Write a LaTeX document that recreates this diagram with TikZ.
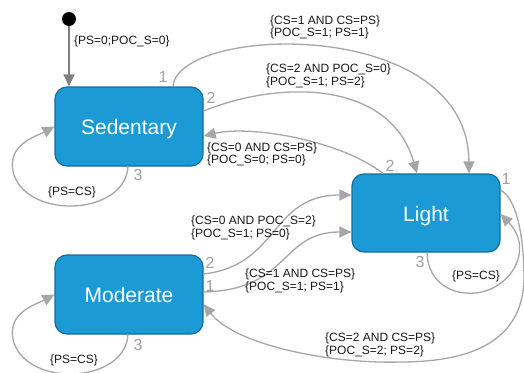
\documentclass[tikz,border=0pt]{standalone}
\usepackage{fontspec}
\setmainfont{Liberation Sans}
\usetikzlibrary{arrows.meta,calc}
\definecolor{boxfill}{HTML}{1B9AD6}
\definecolor{boxline}{HTML}{106E9E}
\definecolor{edgegray}{HTML}{A6A6A6}
\definecolor{numgray}{HTML}{A0A0A0}
\definecolor{initgray}{HTML}{808080}
\begin{document}
\begin{tikzpicture}[x=1pt,y=-1pt,
 state/.style={draw=boxline,line width=1.2pt,fill=boxfill,rounded corners=12pt,minimum width=148pt,minimum height=79pt,inner sep=0pt,text=white,font=\fontsize{21}{24}\selectfont,text height=18pt,text depth=2pt},
 edge/.style={draw=edgegray,line width=1.3pt,-{Triangle[length=12pt,width=11pt]}},
 initedge/.style={draw=initgray,line width=1.3pt,-{Triangle[length=12pt,width=11pt]}},
 lbl/.style={font=\fontsize{12}{12.5}\selectfont,align=left,anchor=west,inner sep=0pt,text=black!90},
 looplbl/.style={font=\fontsize{12}{12.5}\selectfont,inner sep=0pt,text=black!90},
 num/.style={font=\fontsize{16}{16}\selectfont,text=numgray,inner sep=0pt}]
\useasboundingbox (0,0) rectangle (524,372);
\fill[white] (0,0) rectangle (524,372);

\node[circle,fill=black,minimum size=14pt,inner sep=0pt] (init) at (69,19) {};
\node[state] (sed) at (129,126.5) {Sedentary};
\node[state] (mod) at (129,294.5) {Moderate};
\node[state,minimum height=78pt] (light) at (426,213) {Light};

% initial
\draw[initedge] (init) -- (init |- sed.north);
% Sedentary -> Light (1)
\draw[edge] ($(sed.north)+(44,0)$) .. controls (178,25) and (468,15) .. ($(light.north)+(43,0)$);
% Sedentary -> Light (2)
\draw[edge] ($(sed.east)+(0,-15.5)$) .. controls (280,80) and (390,80) .. ($(light.north)+(-9,0)$);
% Light -> Sedentary (2)
\draw[edge] ($(light.north)+(-43,0)$) .. controls (340,140) and (250,125) .. ($(sed.east)+(0,9.5)$);
% Sedentary self loop
\draw[edge] ($(sed.south)+(-1,0)$) .. controls (125,215) and (30,220) .. (14,175) .. controls (5,145) and (35,137) .. (sed.west);
% Moderate self loop
\draw[edge] ($(mod.south)+(-1,0)$) .. controls (125,383) and (30,388) .. (14,343) .. controls (5,313) and (35,305) .. (mod.west);
% Light self loop
\draw[edge] ($(light.south)+(1,0)$) .. controls (428,285) and (455,295) .. (475,293) .. controls (510,290) and (535,250) .. ($(light.east)+(0,1)$);
% Light -> Moderate (1)
\draw[edge] ($(light.east)+(0,-23)$) .. controls (518,200) and (524,240) .. (524,280) .. controls (522,342) and (470,362) .. (400,362) .. controls (330,364) and (235,345) .. ($(mod.east)+(0,9.5)$);
% Moderate -> Light (2)
\draw[edge] ($(mod.east)+(0,-20.5)$) .. controls (280,265) and (270,195) .. ($(light.west)+(0,-18)$);
% Moderate -> Light (1)
\draw[edge] ($(mod.east)+(0,-2.5)$) .. controls (290,290) and (280,232) .. ($(light.west)+(0,19)$);

% labels
\node[lbl] (l0) at (74,41) {\{PS=0;POC\_S=0\}};
\node[lbl] (l1) at (270,27.5) {\{CS=1 AND CS=PS\}\\\{POC\_S=1; PS=1\}};
\node[lbl] (l2) at (266,76) {\{CS=2 AND POC\_S=0\}\\\{POC\_S=1; PS=2\}};
\node[lbl] (l5) at (207,154.5) {\{CS=0 AND CS=PS\}\\\{POC\_S=0; PS=0\}};
\node[lbl] (l7) at (191,228) {\{CS=0 AND POC\_S=2\}\\\{POC\_S=1; PS=0\}};
\node[lbl] (l8) at (245,281) {\{CS=1 AND CS=PS\}\\\{POC\_S=1; PS=1\}};
\node[lbl] (l6) at (325,345) {\{CS=2 AND CS=PS\}\\\{POC\_S=2; PS=2\}};
\node[looplbl] (ls) at (72,192) {\{PS=CS\}};
\node[looplbl] (lm) at (74,360) {\{PS=CS\}};
\node[looplbl] (ll) at (476,276) {\{PS=CS\}};

% edge numbers
\node[num] (n1) at (163,77) {1};
\node[num] (n2) at (211,98) {2};
\node[num] (n3) at (138,175) {3};
\node[num] (n4) at (390,166) {2};
\node[num] (n5) at (506,179) {1};
\node[num] (n6) at (420,262) {3};
\node[num] (n7) at (210,263) {2};
\node[num] (n8) at (210,286) {1};
\node[num] (n9) at (138,345) {3};
\end{tikzpicture}
\end{document}
